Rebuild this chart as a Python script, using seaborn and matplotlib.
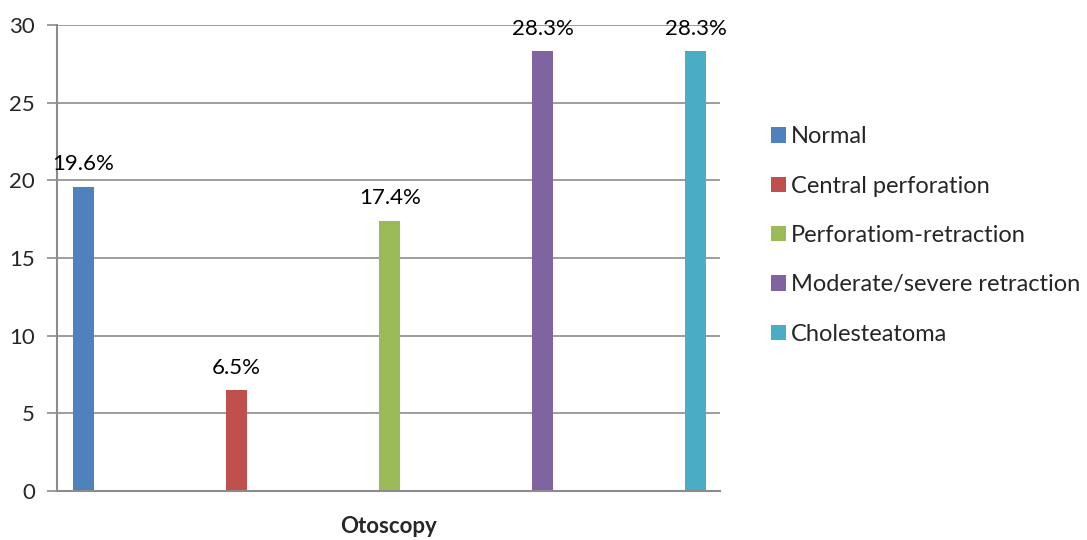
import matplotlib
matplotlib.use("Agg")
import matplotlib.pyplot as plt
import seaborn as sns
import pandas as pd

categories = ["Normal", "Central perforation", "Perforatiom-retraction",
              "Moderate/severe retraction", "Cholesteatoma"]
values = [19.6, 6.5, 17.4, 28.3, 28.3]
labels = ["19.6%", "6.5%", "17.4%", "28.3%", "28.3%"]
colors = ["#4F81BD", "#C0504D", "#9BBB59", "#8064A2", "#4BACC6"]
yticks = [0, 5, 10, 15, 20, 25, 30]

sns.set_style("white")
plt.rcParams["font.family"] = ["Lato", "DejaVu Sans"]

df = pd.DataFrame({"cat": categories, "val": values})

fig = plt.figure(figsize=(10.87, 5.40), dpi=100)
ax = fig.add_axes([57 / 1087, 49 / 540, (720 - 57) / 1087, (491 - 25) / 540])

sns.barplot(data=df, x="cat", y="val", hue="cat", palette=colors,
            order=categories, hue_order=categories, dodge=False,
            width=0.137, legend=False, ax=ax, saturation=1)

for p in ax.patches:
    p.set_edgecolor("none")

for i, (v, lab) in enumerate(zip(values, labels)):
    ax.annotate(lab, (i, v), xytext=(0, 9), textcoords="offset points",
                ha="center", va="bottom", fontsize=16, color="#000000")

ax.set_ylim(0, 30)
ax.set_xlim(-0.173, 4.157)
ax.set_yticks(yticks)
ax.set_yticklabels([str(t) for t in yticks], fontsize=16)
ax.set_xticks([])
ax.yaxis.grid(True, color="#8C8C8C", linewidth=1.2)
ax.set_axisbelow(True)
ax.tick_params(axis="y", length=7, width=1.2, color="#8C8C8C", pad=9,
               left=True, direction="out")

for side in ["top", "right"]:
    ax.spines[side].set_visible(False)
for side in ["left", "bottom"]:
    ax.spines[side].set_color("#8C8C8C")
    ax.spines[side].set_linewidth(1.5)

ax.set_xlabel("Otoscopy", fontsize=16, fontweight="bold", labelpad=18)
ax.set_ylabel("")

handles = [plt.Rectangle((0, 0), 1, 1, facecolor=c, edgecolor="none") for c in colors]
fig.legend(handles, categories, loc="upper left",
           bbox_to_anchor=(762 / 1087, 1 - 117 / 540), frameon=False,
           fontsize=17, handlelength=0.62, handleheight=0.62,
           handletextpad=0.2, labelspacing=1.2, borderaxespad=0)

fig.savefig("out.png", dpi=100)
